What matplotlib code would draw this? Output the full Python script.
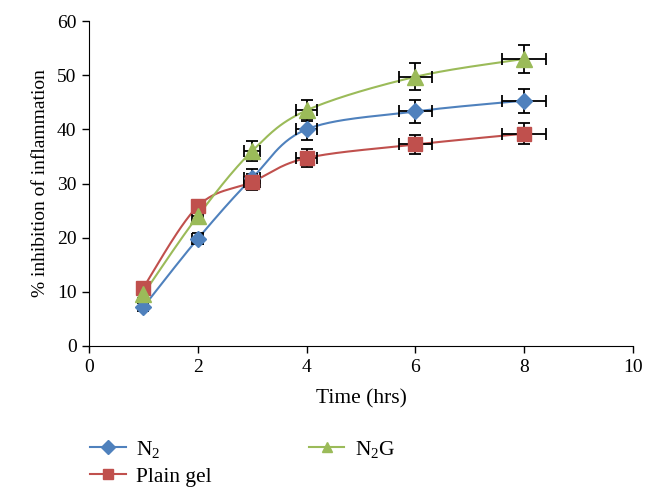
import numpy as np
from matplotlib import pyplot as plt

plt.rcParams['font.family'] = ['Liberation Serif', 'DejaVu Serif']
plt.rcParams['mathtext.fontset'] = 'custom'
plt.rcParams['mathtext.rm'] = 'Liberation Serif'

# data
time = np.array([1, 2, 3, 4, 6, 8])
n2 = np.array([7.2, 19.8, 31.0, 40.0, 43.3, 45.3])
plain_gel = np.array([10.8, 25.8, 30.3, 34.7, 37.2, 39.2])
n2g = np.array([9.6, 24.0, 36.0, 43.5, 49.7, 53.0])

n2_err = np.array([0.8, 1.0, 1.7, 1.9, 2.2, 2.2])
plain_gel_err = np.array([0.8, 1.0, 1.5, 1.7, 1.8, 1.9])
n2g_err = np.array([0.8, 1.0, 1.8, 1.9, 2.5, 2.6])
time_err = np.array([0.05, 0.1, 0.15, 0.2, 0.3, 0.4])


def smooth(x, y, n=30):
    # excel-like smoothed line (bezier through points, tension 1/6)
    sx, sy = 10.0, 60.0
    px, py = x / sx, y / sy
    px = np.concatenate(([px[0]], px, [px[-1]]))
    py = np.concatenate(([py[0]], py, [py[-1]]))
    xs, ys = [], []
    t = np.linspace(0, 1, n)
    for i in range(1, len(px) - 2):
        p0 = np.array([px[i], py[i]])
        p3 = np.array([px[i + 1], py[i + 1]])
        p1 = p0 + (np.array([px[i + 1], py[i + 1]]) - np.array([px[i - 1], py[i - 1]])) / 6
        p2 = p3 - (np.array([px[i + 2], py[i + 2]]) - np.array([px[i], py[i]])) / 6
        b = ((1 - t) ** 3)[:, None] * p0 + (3 * (1 - t) ** 2 * t)[:, None] * p1 \
            + (3 * (1 - t) * t ** 2)[:, None] * p2 + (t ** 3)[:, None] * p3
        xs.append(b[:, 0])
        ys.append(b[:, 1])
    return np.concatenate(xs) * sx, np.concatenate(ys) * sy


fig = plt.figure(figsize=(6.57, 5.01), dpi=100)
ax = fig.add_axes([89 / 657, 1 - 346 / 501, (633 - 89) / 657, (346 - 21) / 501])

series = [
    (n2, n2_err, '#4F81BD', 'D', 8, r'$\mathrm{N_2}$'),
    (plain_gel, plain_gel_err, '#C0504D', 's', 10, 'Plain gel'),
    (n2g, n2g_err, '#9BBB59', '^', 11, r'$\mathrm{N_2G}$'),
]

for y, yerr, col, m, ms, lab in series:
    sx, sy = smooth(time, y)
    ax.plot(sx, sy, color=col, lw=1.5, zorder=2)
    ax.errorbar(time, y, yerr=yerr, xerr=time_err, fmt='none', ecolor='black',
                elinewidth=1.3, capsize=4, capthick=1.3, zorder=3)
    ax.plot(time, y, linestyle='none', marker=m, markersize=ms, color=col, zorder=4)
    ax.plot([], [], color=col, marker=m, markersize=7, lw=1.5, label=lab)

ax.set_xlim(0, 10)
ax.set_ylim(0, 60)
ax.set_xticks(np.arange(0, 11, 2))
ax.set_yticks(np.arange(0, 61, 10))
ax.spines['top'].set_visible(False)
ax.spines['right'].set_visible(False)
ax.tick_params(labelsize=14, direction='out', length=5, width=1, pad=4)
ax.set_xlabel('Time (hrs)', fontsize=15.5, labelpad=10)
ax.set_ylabel('% inhibition of inflammation', fontsize=14, labelpad=6)

fig.legend(loc='upper left', bbox_to_anchor=(90 / 657, 1 - 439 / 501), ncol=2,
           frameon=False, fontsize=15.5, handlelength=1.65, handletextpad=0.5,
           columnspacing=4.5, labelspacing=0.3, borderaxespad=0, borderpad=0)

fig.savefig('out.png', dpi=100)
